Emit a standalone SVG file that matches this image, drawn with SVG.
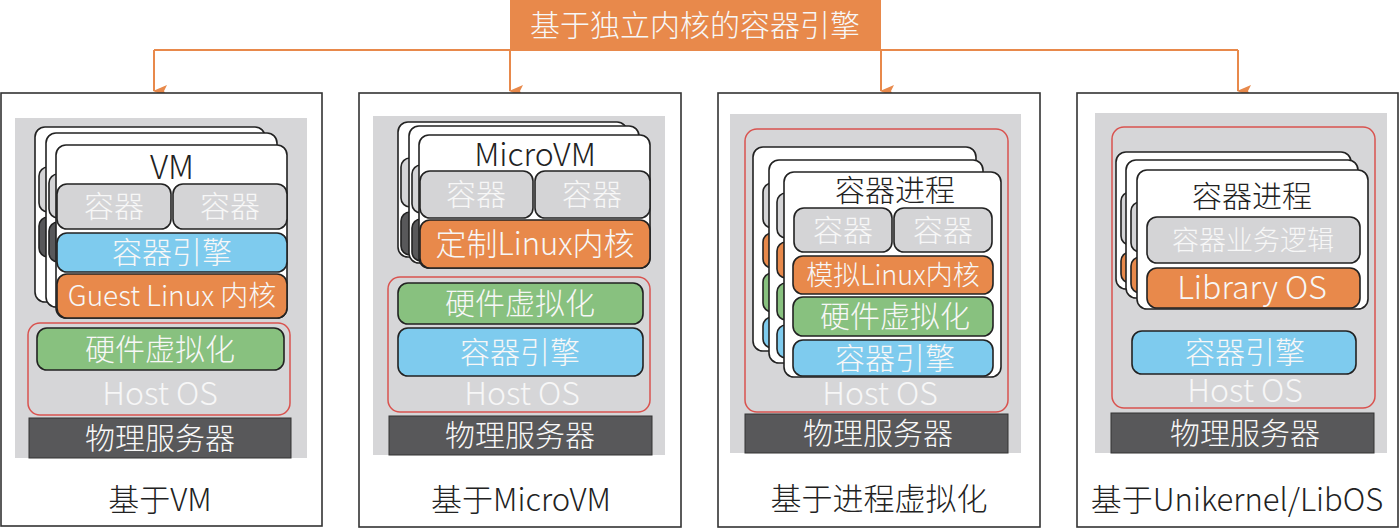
<svg xmlns="http://www.w3.org/2000/svg" width="1400" height="528" viewBox="0 0 1400 528">
<defs>
<style>
.frame{fill:#fff;stroke:#333;stroke-width:1.6}
.bg{fill:#d6d6d8}
.card{fill:#fff;stroke:#222;stroke-width:1.6}
.gray{fill:#d4d4d6;stroke:#222;stroke-width:1.6}
.orange{fill:#e8894b;stroke:#222;stroke-width:1.6}
.blue{fill:#7ecbee;stroke:#222;stroke-width:1.6}
.green{fill:#88c17f;stroke:#222;stroke-width:1.6}
.dk{fill:#58585a;stroke:#222;stroke-width:1.6}
.server{fill:#58585a;stroke:#333;stroke-width:1}
.red{fill:none;stroke:#d9534f;stroke-width:1.5}
.conn{fill:none;stroke:#e8894b;stroke-width:2}
text{font-family:"Noto Sans CJK SC","Noto Sans",sans-serif;font-weight:300;text-anchor:middle}
.w{fill:#f7f7f7}
.k{fill:#222}
</style>
<marker id="arr" viewBox="0 0 12 14" refX="6" refY="13" markerWidth="12" markerHeight="14" markerUnits="userSpaceOnUse" orient="auto-start-reverse">
<path d="M0,0 L6,3 L12,0 L6,14 Z" fill="#e8894b" transform="rotate(0)"/>
</marker>
</defs>
<rect width="1400" height="528" fill="#fff"/>

<g id="title">
<rect x="510" y="0" width="371" height="50" fill="#e8894b"/>
<text x="695" y="36" font-size="30" class="w">基于独立内核的容器引擎</text>
</g>

<g id="connectors">
<path class="conn" d="M154,50 H1238"/>
<path class="conn" d="M154,50 V91" marker-end="url(#arr)"/>
<path class="conn" d="M510,50 V91" marker-end="url(#arr)"/>
<path class="conn" d="M881,50 V91" marker-end="url(#arr)"/>
<path class="conn" d="M1238,50 V91" marker-end="url(#arr)"/>
</g>

<g id="panel-vm">
<rect class="frame" x="1" y="93" width="321" height="433"/>
<rect class="bg" x="15" y="118" width="292" height="340"/>
<rect class="card" x="35" y="127" width="230" height="175" rx="10"/>
<rect class="gray" x="39" y="167" width="40" height="45" rx="9"/>
<rect class="dk" x="39" y="217" width="40" height="40" rx="9"/>
<rect class="card" x="46" y="133" width="231" height="174" rx="10"/>
<rect class="gray" x="49" y="174" width="40" height="44" rx="9"/>
<rect class="dk" x="49" y="222" width="40" height="40" rx="9"/>
<rect class="card" x="56" y="145" width="231" height="173" rx="10"/>
<text x="172" y="179" font-size="33" class="k">VM</text>
<rect class="gray" x="57" y="184" width="114" height="45" rx="10"/>
<text x="114" y="217" font-size="30" class="w">容器</text>
<rect class="gray" x="173" y="184" width="114" height="45" rx="10"/>
<text x="230" y="217" font-size="30" class="w">容器</text>
<rect class="blue" x="57" y="233" width="230" height="39" rx="10"/>
<text x="172" y="263" font-size="30" class="w">容器引擎</text>
<rect class="orange" x="57" y="274" width="230" height="44" rx="10"/>
<text x="172" y="306" font-size="28" class="w">Guest Linux 内核</text>
<rect class="red" x="28" y="323" width="262" height="92" rx="12"/>
<rect class="green" x="37" y="328" width="247" height="42" rx="10"/>
<text x="160" y="360" font-size="30" class="w">硬件虚拟化</text>
<text x="160" y="405" font-size="32" class="w">Host OS</text>
<rect class="server" x="29" y="418" width="262" height="40"/>
<text x="160" y="449" font-size="30" class="w">物理服务器</text>
<text x="160" y="511" font-size="31" class="k">基于VM</text>
</g>

<g id="panel-microvm">
<rect class="frame" x="359" y="93" width="322" height="434"/>
<rect class="bg" x="373" y="116" width="292" height="339"/>
<rect class="card" x="398" y="122" width="229" height="135" rx="10"/>
<rect class="gray" x="401" y="158" width="40" height="49" rx="9"/>
<rect class="dk" x="401" y="212" width="40" height="43" rx="9"/>
<rect class="card" x="409" y="126" width="230" height="137" rx="10"/>
<rect class="gray" x="412" y="165" width="40" height="48" rx="9"/>
<rect class="dk" x="412" y="219" width="40" height="42" rx="9"/>
<rect class="card" x="419" y="135" width="231" height="133" rx="10"/>
<text x="535" y="166" font-size="32" class="k">MicroVM</text>
<rect class="gray" x="420" y="171" width="113" height="47" rx="10"/>
<text x="476" y="205" font-size="30" class="w">容器</text>
<rect class="gray" x="535" y="171" width="115" height="47" rx="10"/>
<text x="592" y="205" font-size="30" class="w">容器</text>
<rect class="orange" x="420" y="220" width="230" height="48" rx="10"/>
<text x="535" y="255" font-size="31" class="w">定制Linux内核</text>
<rect class="red" x="388" y="277" width="262" height="135" rx="12"/>
<rect class="green" x="398" y="283" width="245" height="41" rx="10"/>
<text x="520" y="314" font-size="30" class="w">硬件虚拟化</text>
<rect class="blue" x="398" y="328" width="245" height="48" rx="10"/>
<text x="520" y="363" font-size="30" class="w">容器引擎</text>
<text x="522" y="405" font-size="32" class="w">Host OS</text>
<rect class="server" x="389" y="416" width="263" height="39"/>
<text x="520" y="446" font-size="30" class="w">物理服务器</text>
<text x="521" y="511" font-size="31" class="k">基于MicroVM</text>
</g>

<g id="panel-process">
<rect class="frame" x="718" y="93" width="322" height="434"/>
<rect class="bg" x="730" y="114" width="291" height="339"/>
<rect class="red" x="745" y="129" width="263" height="283" rx="12"/>
<rect class="card" x="753" y="147" width="223" height="204" rx="10"/>
<rect class="gray" x="763" y="183" width="40" height="45" rx="9"/>
<rect class="orange" x="763" y="233" width="40" height="35" rx="9"/>
<rect class="green" x="763" y="273" width="40" height="39" rx="9"/>
<rect class="blue" x="763" y="317" width="40" height="31" rx="9"/>
<rect class="card" x="769" y="160" width="214" height="203" rx="10"/>
<rect class="gray" x="777" y="193" width="40" height="45" rx="9"/>
<rect class="orange" x="777" y="242" width="40" height="36" rx="9"/>
<rect class="green" x="777" y="283" width="40" height="37" rx="9"/>
<rect class="blue" x="777" y="325" width="40" height="33" rx="9"/>
<rect class="card" x="784" y="172" width="217" height="205" rx="10"/>
<text x="895" y="201" font-size="30" class="k">容器进程</text>
<rect class="gray" x="794" y="208" width="98" height="44" rx="10"/>
<text x="843" y="241" font-size="30" class="w">容器</text>
<rect class="gray" x="894" y="208" width="98" height="44" rx="10"/>
<text x="943" y="241" font-size="30" class="w">容器</text>
<rect class="orange" x="793" y="256" width="200" height="38" rx="10"/>
<text x="893" y="285" font-size="27" class="w">模拟Linux内核</text>
<rect class="green" x="793" y="297" width="200" height="39" rx="10"/>
<text x="895" y="327" font-size="30" class="w">硬件虚拟化</text>
<rect class="blue" x="793" y="340" width="200" height="36" rx="10"/>
<text x="895" y="369" font-size="30" class="w">容器引擎</text>
<text x="880" y="405" font-size="32" class="w">Host OS</text>
<rect class="server" x="745" y="414" width="263" height="39"/>
<text x="878" y="444" font-size="30" class="w">物理服务器</text>
<text x="879" y="510" font-size="31" class="k">基于进程虚拟化</text>
</g>

<g id="panel-unikernel">
<rect class="frame" x="1077" y="93" width="321" height="434"/>
<rect class="bg" x="1095" y="113" width="292" height="340"/>
<rect class="red" x="1112" y="127" width="263" height="281" rx="12"/>
<rect class="card" x="1116" y="152" width="235" height="137" rx="10"/>
<rect class="gray" x="1121" y="192" width="40" height="53" rx="9"/>
<rect class="orange" x="1121" y="252" width="40" height="31" rx="9"/>
<rect class="card" x="1126" y="160" width="232" height="138" rx="10"/>
<rect class="gray" x="1131" y="202" width="40" height="50" rx="9"/>
<rect class="orange" x="1131" y="257" width="40" height="36" rx="9"/>
<rect class="card" x="1137" y="170" width="231" height="139" rx="10"/>
<text x="1252" y="207" font-size="30" class="k">容器进程</text>
<rect class="gray" x="1147" y="217" width="213" height="46" rx="10"/>
<text x="1253" y="250" font-size="27" class="w">容器业务逻辑</text>
<rect class="orange" x="1147" y="268" width="213" height="40" rx="10"/>
<text x="1252" y="299" font-size="32" class="w">Library OS</text>
<rect class="blue" x="1132" y="331" width="224" height="43" rx="10"/>
<text x="1245" y="363" font-size="30" class="w">容器引擎</text>
<text x="1245" y="402" font-size="32" class="w">Host OS</text>
<rect class="server" x="1111" y="413" width="263" height="40"/>
<text x="1245" y="444" font-size="30" class="w">物理服务器</text>
<text x="1237" y="511" font-size="31" class="k">基于Unikernel/LibOS</text>
</g>
</svg>
